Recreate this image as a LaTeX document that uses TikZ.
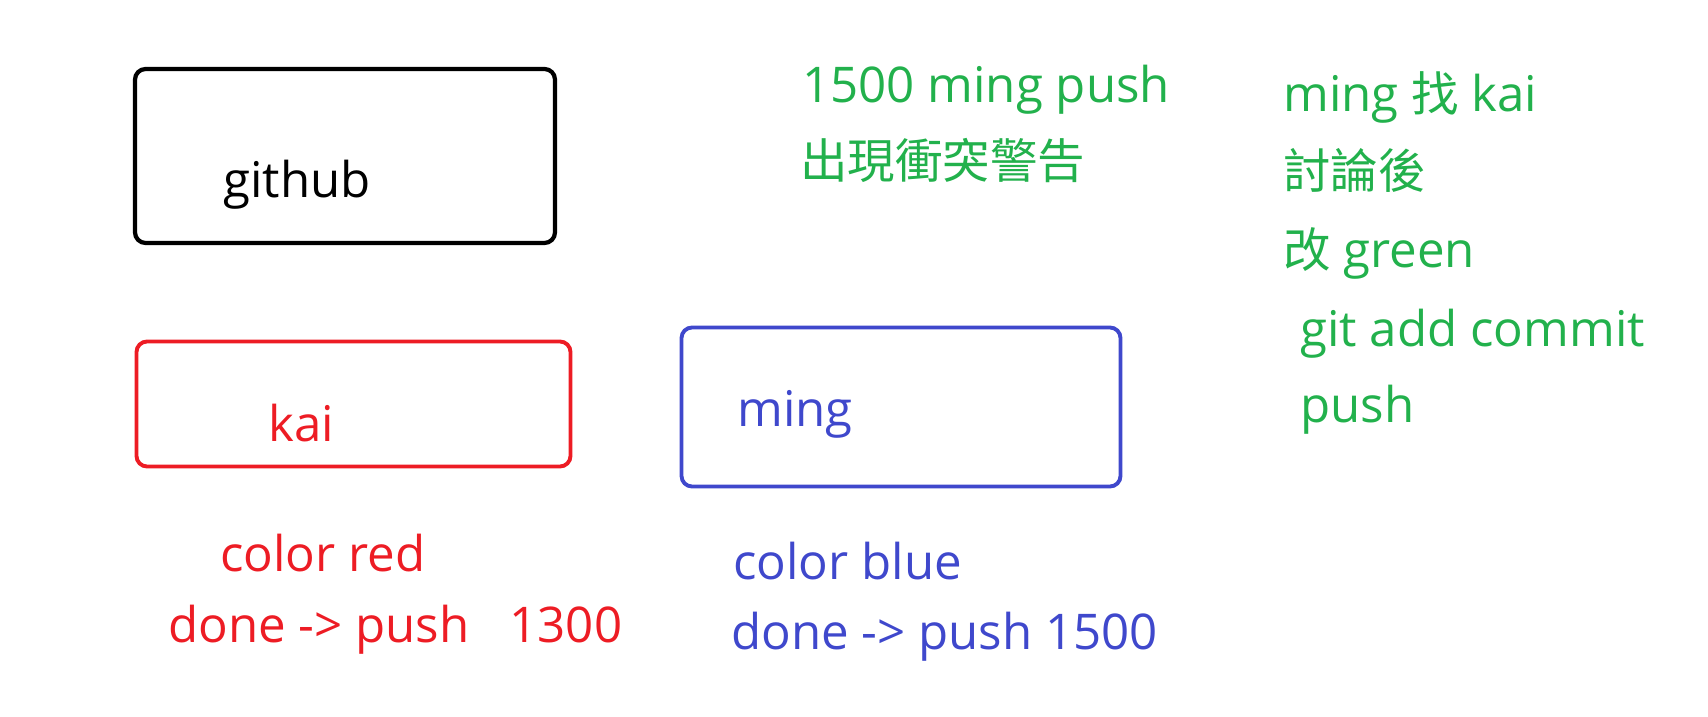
\documentclass[tikz,border=0pt]{standalone}
\usepackage{fontspec}
\setmainfont{Open Sans}
\newfontfamily\cjk[Scale=0.965]{Noto Sans CJK TC}
\usetikzlibrary{positioning}

\definecolor{paintred}{HTML}{ED1C24}
\definecolor{paintblue}{HTML}{3F48CC}
\definecolor{paintgreen}{HTML}{22B14C}

\begin{document}
\begin{tikzpicture}[
  font=\fontsize{28pt}{33pt}\selectfont,
  repo/.style={rounded corners=6pt, draw, line width=2.2pt, inner sep=0pt},
  lbl/.style={anchor=base west, inner sep=0pt},
  note/.style={lbl, text=paintgreen}
]
\useasboundingbox (0,0) rectangle (34.16,14.32);

% Repos
\node[repo, line width=2.4pt, minimum width=8.4cm, minimum height=3.48cm] (github) at (6.9,11.2) {};
\node[repo, draw=paintred, minimum width=8.68cm, minimum height=2.5cm] (kai) at (7.07,6.24) {};
\node[repo, draw=paintblue, minimum width=8.78cm, minimum height=3.18cm] (ming) at (18.02,6.18) {};

\node[lbl] (githubname) at (4.46,10.36) {github};
\node[lbl, text=paintred] (kainame) at (5.36,5.48) {kai};
\node[lbl, text=paintblue] (mingname) at (14.74,5.78) {ming};

% kai side
\node[lbl, text=paintred] (kai1) at (4.4,2.88) {color red};
\node[lbl, text=paintred] (kai2) at (3.36,1.48) {done -> push\hspace{0.8cm}1300};

% ming side
\node[lbl, text=paintblue] (ming1) at (14.66,2.72) {color blue};
\node[lbl, text=paintblue] (ming2) at (14.62,1.32) {done -> push 1500};

% conflict notes
\node[note] (c1) at (16.04,12.26) {1500 ming push};
\node[note] (c2) at (16.0,10.74) {\cjk 出現衝突警告};

\node[note] (r1) at (25.66,12.08) {ming {\cjk 找} kai};
\node[note] (r2) at (25.66,10.54) {\cjk 討論後};
\node[note] (r3) at (25.66,8.96) {{\cjk 改} green};
\node[note] (r4) at (26.0,7.38) {git add commit};
\node[note] (r5) at (26.0,5.86) {push};

\end{tikzpicture}
\end{document}
